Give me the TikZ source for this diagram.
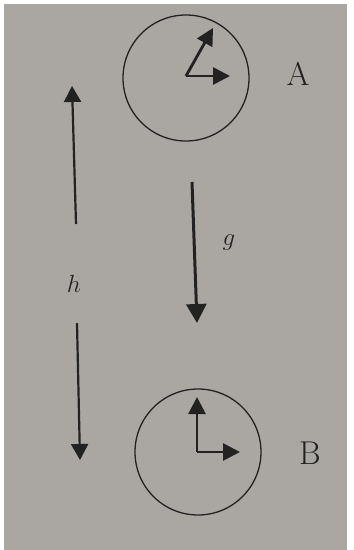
\documentclass[tikz,border=0pt]{standalone}
\usepackage{amsmath}
\usetikzlibrary{arrows.meta, positioning}

\definecolor{paper}{RGB}{170,167,163}
\definecolor{ink}{RGB}{34,34,34}

\begin{document}
\begin{tikzpicture}[
    x=1pt, y=-1pt,
    clock/.style={circle, draw=ink, line width=1.3pt, minimum size=126pt, inner sep=0pt},
    hand/.style={-{Triangle[length=17pt, width=17pt]}, line width=2.8pt, draw=ink},
    arrow/.style={-{Triangle[length=16pt, width=17pt]}, line width=2.2pt, draw=ink},
    thickarrow/.style={-{Triangle[length=19pt, width=20pt]}, line width=3pt, draw=ink},
    lbl/.style={font=\fontsize{33}{40}\selectfont, text=ink, inner sep=0pt}
]
    % Background
    \fill[white] (0,0) rectangle (354,550);
    \fill[paper] (4,4) rectangle (347,550);
    \useasboundingbox (0,0) rectangle (354,550);

    % Clocks
    \node[clock] (clockA) at (186,78) {};
    \node[clock] (clockB) at (198,452) {};
    \node[lbl] (labA) at (298,74) {A};
    \node[lbl] (labB) at (310,453) {B};

    % Hands
    \coordinate (pivotA) at (186,76);
    \coordinate (hourA) at (213,28);
    \coordinate (minA) at (230,76);
    \coordinate (pivotB) at (197,452);
    \coordinate (hourB) at (197,397);
    \coordinate (minB) at (240,452);
    \draw[hand] (pivotA) -- (hourA);
    \draw[hand] (pivotA) -- (minA);
    \draw[hand] (pivotB) -- (hourB);
    \draw[hand] (pivotB) -- (minB);

    % Height h
    \node[lbl] (labh) at (74,284) {$h$};
    \coordinate (hupS) at (76,224);
    \coordinate (hupE) at (72,86);
    \coordinate (hdnS) at (77,323);
    \coordinate (hdnE) at (80,460);
    \draw[arrow] (hupS) -- (hupE);
    \draw[arrow] (hdnS) -- (hdnE);

    % Gravity g
    \node[lbl] (labg) at (229,243) {$g$};
    \coordinate (gS) at (192,182);
    \coordinate (gE) at (197,323);
    \draw[thickarrow] (gS) -- (gE);
\end{tikzpicture}
\end{document}
